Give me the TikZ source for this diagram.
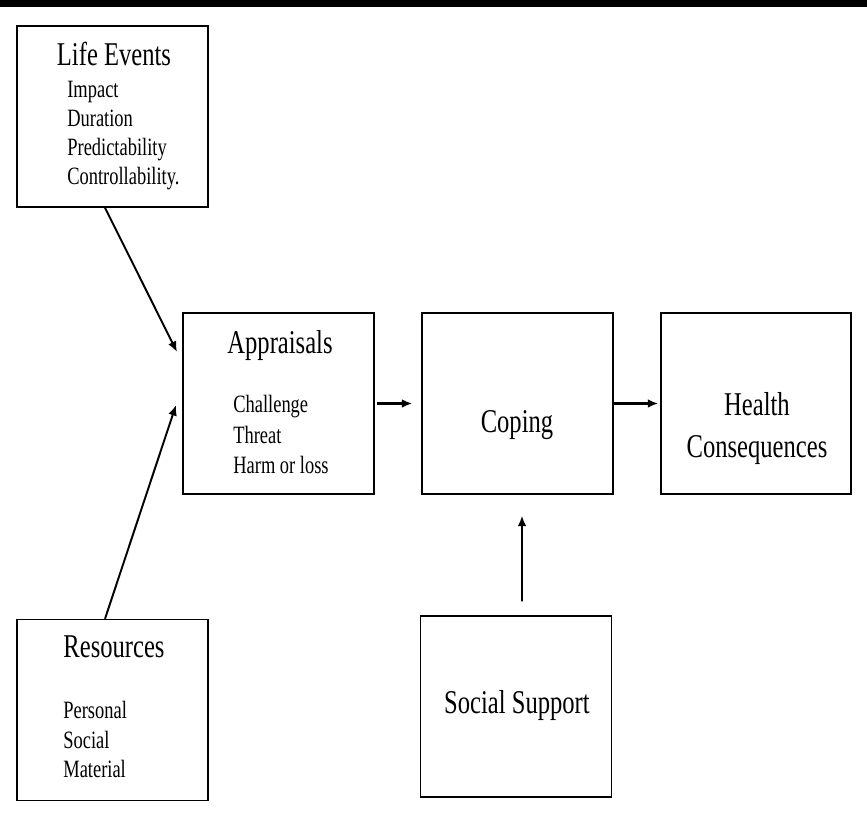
\documentclass[tikz,border=0pt]{standalone}
\usepackage{fontspec}
\setmainfont{Liberation Serif}
\usepackage{tikz}
\usetikzlibrary{arrows.meta}

\newcommand{\tall}[1]{\scalebox{1}[1.35]{#1}}

\tikzset{
  box/.style={draw, line width=0.8pt, minimum width=3.82cm, minimum height=3.62cm, inner sep=0pt},
  head/.style={font=\fontsize{14}{16}\selectfont, anchor=base, inner sep=0pt},
  item/.style={font=\fontsize{10.5}{12}\selectfont, anchor=base west, inner sep=0pt},
  arr/.style={line width=1.1pt, -{Latex[length=6pt,width=5pt]}},
  harr/.style={arr, line width=1.6pt}
}

\begin{document}
\begin{tikzpicture}[x=0.02cm, y=-0.02cm]
  \useasboundingbox (0,0) rectangle (867,816);
  \fill (0,0) rectangle (867,7);

  % boxes
  \node(life)[box] at (112.5,116.5) {};
  \node(appr)[box] at (278.5,403.5) {};
  \node(coping)[box] at (517.5,403.5) {};
  \node(health)[box, minimum width=3.8cm] at (756,403.5) {};
  \node(res)[box] at (112.5,710) {};
  \node(social)[box] at (516,706.5) {};

  % life events
  \node(lifeT)[head] at (114,65) {\tall{Life Events}};
   \node(l1)[item] at (67,97) {\tall{Impact}};
   \node(l2)[item] at (67,126) {\tall{Duration}};
   \node(l3)[item] at (67,155) {\tall{Predictability}};
   \node(l4)[item] at (67,184) {\tall{Controllability.}};

  % appraisals
  \node(apprT)[head] at (280,353) {\tall{Appraisals}};
   \node(a1)[item] at (233,412) {\tall{Challenge}};
   \node(a2)[item] at (233,443) {\tall{Threat}};
   \node(a3)[item] at (233,473) {\tall{Harm or loss}};

  \node(copingT)[head] at (517,432) {\tall{Coping}};

  \node(healthT)[head] at (757,415) {\tall{Health}};
  \node(healthB)[head] at (757,457) {\tall{Consequences}};

  % resources
  \node(resT)[head] at (114,657) {\tall{Resources}};
   \node(r1)[item] at (63,718) {\tall{Personal}};
   \node(r2)[item] at (63,748) {\tall{Social}};
   \node(r3)[item] at (63,777) {\tall{Material}};

  \node(socialT)[head] at (517,713) {\tall{Social Support}};

  % arrows
  \coordinate(inL) at (177,352);
  \coordinate(inR) at (176,405);
  \draw[arr] ([xshift=-0.15cm]life.south) -- (inL);
  \draw[arr] ([xshift=-0.15cm]res.north) -- (inR);
  \draw[harr] ([xshift=0.04cm]appr.east) -- ([xshift=-0.18cm]coping.west);
  \draw[harr] (coping.east) -- ([xshift=-0.04cm]health.west);
  \draw[arr] ([xshift=0.12cm,yshift=0.28cm]social.north) -- ([xshift=0.09cm,yshift=-0.42cm]coping.south);
 \end{tikzpicture}
\end{document}
